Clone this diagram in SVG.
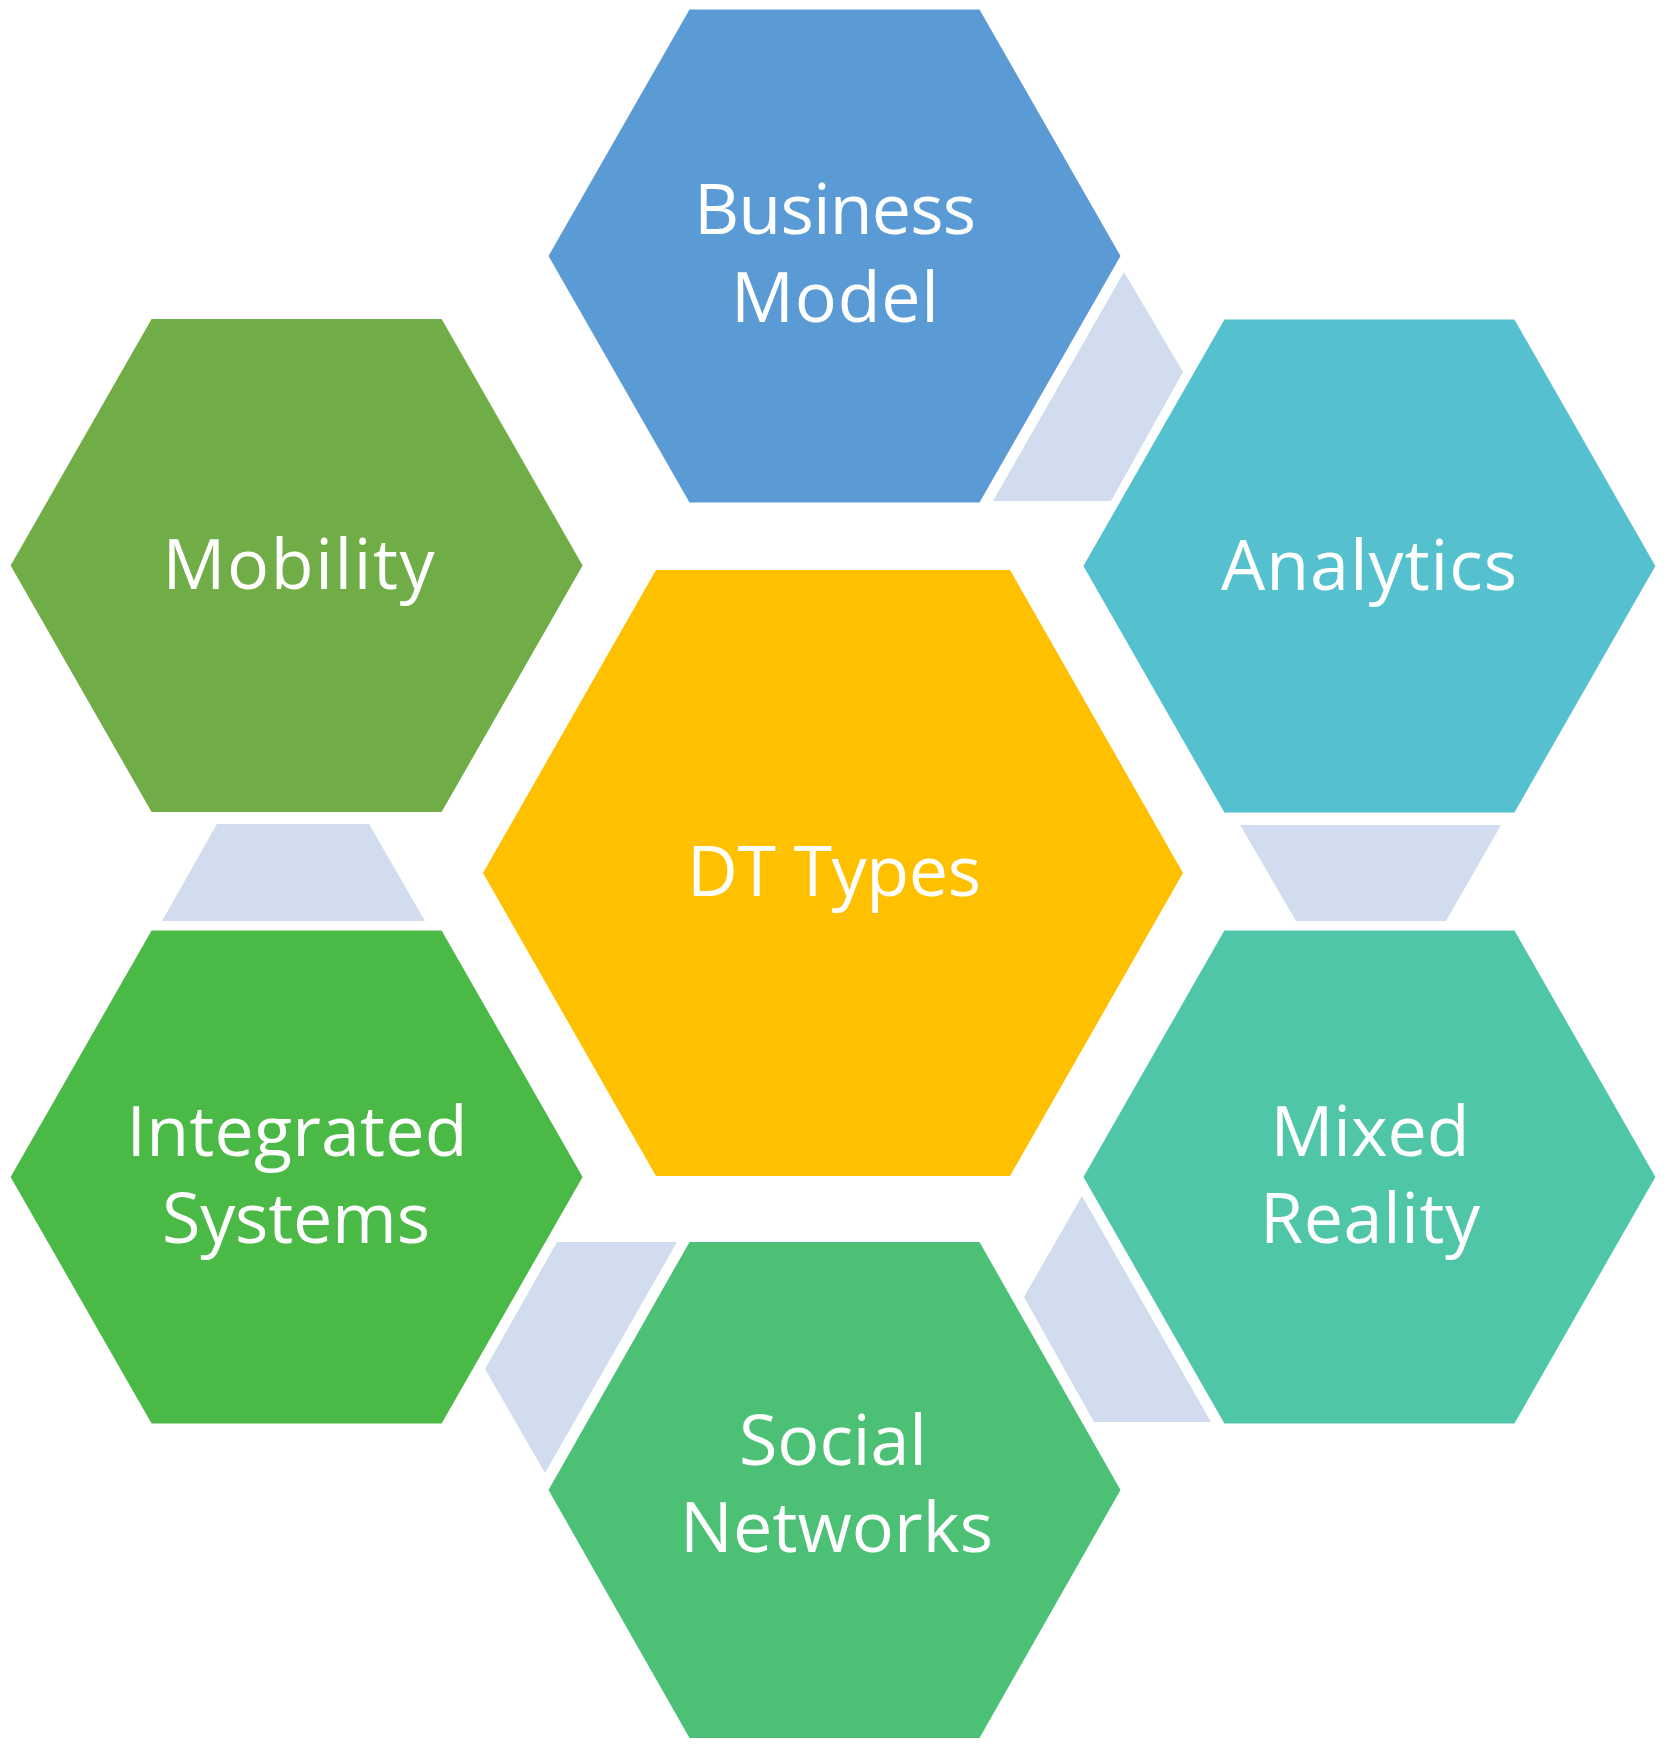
<svg xmlns="http://www.w3.org/2000/svg" width="1667" height="1746" viewBox="0 0 1667 1746">
<style>
.lbl{font-family:"Open Sans","Noto Sans","Liberation Sans",sans-serif;font-size:70px;fill:#FFFFFF;text-anchor:middle}
.conn{fill:#D1DCEF}
</style>
<rect width="1667" height="1746" fill="#FFFFFF"/>
<g id="connectors">
<polygon class="conn" points="1124,272 1183,372 1111,501 993,501"/>
<polygon class="conn" points="1240,825 1501,825 1446,921 1296,921"/>
<polygon class="conn" points="1082,1196 1024,1297 1094,1422 1211,1422"/>
<polygon class="conn" points="557,1242 677,1242 545,1473 485,1369"/>
<polygon class="conn" points="217,824 369,824 425,921 162,921"/>
</g>
<g id="business-model">
<polygon fill="#5B9BD5" points="548.5,256 689.5,9.5 979.5,9.5 1120.5,256 979.5,502.5 689.5,502.5"/>
<text class="lbl" x="835" y="234" textLength="282">Business</text>
<text class="lbl" x="835" y="322" textLength="208">Model</text>
</g>
<g id="mobility">
<polygon fill="#70AD47" points="10.6,565.5 151.6,319 441.6,319 582.6,565.5 441.6,812 151.6,812"/>
<text class="lbl" x="298.5" y="589" textLength="272">Mobility</text>
</g>
<g id="analytics">
<polygon fill="#55C1CE" points="1083.4,566 1224.4,319.5 1514.4,319.5 1655.4,566 1514.4,812.5 1224.4,812.5"/>
<text class="lbl" x="1369" y="590" textLength="296">Analytics</text>
</g>
<g id="dt-types">
<polygon fill="#FFC000" points="483,873 656,570 1010,570 1183,873 1010,1176 656,1176"/>
<text class="lbl" x="834" y="896" textLength="294">DT Types</text>
</g>
<g id="integrated-systems">
<polygon fill="#4BB946" points="10.6,1177 151.6,930.5 441.6,930.5 582.6,1177 441.6,1423.5 151.6,1423.5"/>
<text class="lbl" x="297" y="1156" textLength="341">Integrated</text>
<text class="lbl" x="296" y="1243" textLength="268">Systems</text>
</g>
<g id="mixed-reality">
<polygon fill="#50C6A8" points="1083.4,1177 1224.4,930.5 1514.4,930.5 1655.4,1177 1514.4,1423.5 1224.4,1423.5"/>
<text class="lbl" x="1370" y="1156" textLength="199">Mixed</text>
<text class="lbl" x="1370" y="1243" textLength="220">Reality</text>
</g>
<g id="social-networks">
<polygon fill="#4CC175" points="548.5,1490 689.5,1242 979.5,1242 1120.5,1490 979.5,1738 689.5,1738"/>
<text class="lbl" x="833" y="1465" textLength="188">Social</text>
<text class="lbl" x="836.6" y="1552" textLength="313">Networks</text>
</g>
</svg>
